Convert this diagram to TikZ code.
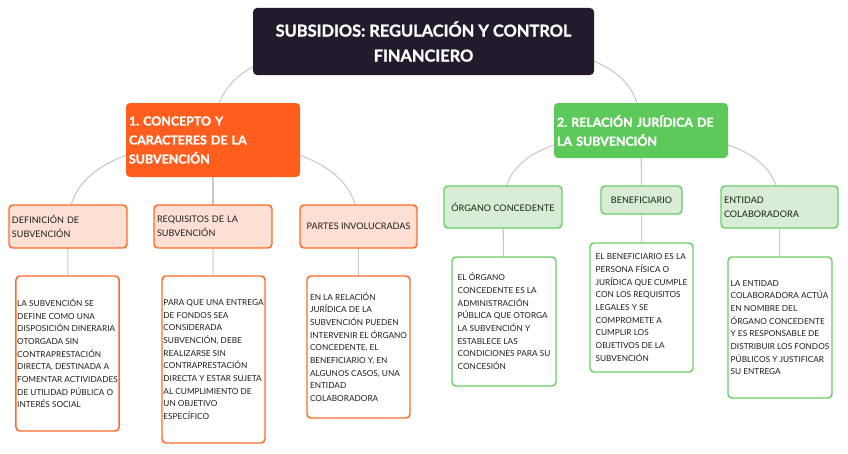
\documentclass[tikz,border=0pt]{standalone}
\usepackage{fontspec}
\setmainfont{Lato}
\newfontfamily\heavyfont{Lato}[BoldFeatures={FakeBold=1.3}]
\usetikzlibrary{backgrounds}
\definecolor{titlebg}{HTML}{231B2C}
\definecolor{orangemain}{HTML}{FF5E1F}
\definecolor{orangelight}{HTML}{FDDFD4}
\definecolor{orangeborder}{HTML}{FF6A2A}
\definecolor{greenmain}{HTML}{5EC95B}
\definecolor{greenlight}{HTML}{D7EDD5}
\definecolor{greenborder}{HTML}{6BCF66}
\definecolor{linkgray}{HTML}{C9C9C9}
\definecolor{txt}{HTML}{1E1E1E}
\begin{document}
\frenchspacing
\begin{tikzpicture}[x=0.75pt,y=-0.75pt,
  sz/.style 2 args={minimum width=#1*0.75pt, minimum height=#2*0.75pt},
  titlebox/.style={fill=titlebg, rounded corners=3pt, text=white,
    font=\heavyfont\fontsize{12.3}{18.75}\selectfont\bfseries, align=center, inner sep=0pt},
  headbox/.style={rounded corners=3pt, text=white,
    font=\heavyfont\fontsize{9.3}{14.25}\selectfont\bfseries, align=left, inner xsep=2.25pt, inner ysep=0pt},
  subbox/.style={rounded corners=3pt, line width=1.1pt, text=txt,
    font=\fontsize{6.8}{10.5}\selectfont, inner xsep=2.25pt, inner ysep=0pt},
  orsub/.style={subbox, fill=orangelight, draw=orangeborder},
  grsub/.style={subbox, fill=greenlight, draw=greenborder},
  textbox/.style={rounded corners=3pt, line width=1.1pt, fill=white, text=txt,
    font=\fontsize{6.2}{9.5}\selectfont, align=left, inner sep=1pt},
  link/.style={draw=linkgray, line width=0.8pt}
]
\useasboundingbox (0,0) rectangle (848,453);
\begin{pgfonlayer}{background}
\fill[white] (0,0) rectangle (848,453);
\end{pgfonlayer}

% main nodes
\node[titlebox, sz={341}{67}] (title) at (423.5,41.5) {SUBSIDIOS: REGULACIÓN Y CONTROL\\FINANCIERO};
\node[headbox, fill=orangemain, sz={174}{74}, text width=126pt] (concept) at (213,140)
  {1. CONCEPTO Y\\CARACTERES DE LA\\SUBVENCIÓN};
\node[headbox, fill=greenmain, sz={174}{55}, text width=126pt] (relation) at (641,130.5)
  {2. RELACIÓN JURÍDICA DE\\LA SUBVENCIÓN};

% orange sub nodes
\node[orsub, sz={118}{43}, text width=84pt, align=left] (def) at (68,226.5) {DEFINICIÓN DE\\SUBVENCIÓN};
\node[orsub, sz={118}{43}, text width=84pt, align=left] (req) at (213,226.5) {REQUISITOS DE LA\\SUBVENCIÓN};
\node[orsub, sz={117}{43}, align=center] (partes) at (358.5,226.5) {PARTES INVOLUCRADAS};

% green sub nodes
\node[grsub, sz={118}{42}, align=center] (org) at (503,207) {ÓRGANO CONCEDENTE};
\node[grsub, sz={81}{28}, align=center] (ben) at (641.5,200) {BENEFICIARIO};
\node[grsub, sz={117}{42}, text width=83.25pt, align=left] (ent) at (779.5,207) {ENTIDAD\\COLABORADORA};

% text boxes
\node[textbox, draw=orangeborder, sz={103}{155}] (t1) at (67.5,353.5)
  {LA SUBVENCIÓN SE\\DEFINE COMO UNA\\DISPOSICIÓN DINERARIA\\OTORGADA SIN\\CONTRAPRESTACIÓN\\DIRECTA, DESTINADA A\\FOMENTAR ACTIVIDADES\\DE UTILIDAD PÚBLICA O\\INTERÉS SOCIAL};
\node[textbox, draw=orangeborder, sz={103}{167}] (t2) at (213.5,359.5)
  {PARA QUE UNA ENTREGA\\DE FONDOS SEA\\CONSIDERADA\\SUBVENCIÓN, DEBE\\REALIZARSE SIN\\CONTRAPRESTACIÓN\\DIRECTA Y ESTAR SUJETA\\AL CUMPLIMIENTO DE\\UN OBJETIVO\\ESPECÍFICO};
\node[textbox, draw=orangeborder, sz={103}{142}] (t3) at (358.5,347)
  {EN LA RELACIÓN\\JURÍDICA DE LA\\SUBVENCIÓN PUEDEN\\INTERVENIR EL ÓRGANO\\CONCEDENTE, EL\\BENEFICIARIO Y, EN\\ALGUNOS CASOS, UNA\\ENTIDAD\\COLABORADORA};
\node[textbox, draw=greenborder, sz={104}{129}] (t4) at (504,321.5)
  {EL ÓRGANO\\CONCEDENTE ES LA\\ADMINISTRACIÓN\\PÚBLICA QUE OTORGA\\LA SUBVENCIÓN Y\\ESTABLECE LAS\\CONDICIONES PARA SU\\CONCESIÓN};
\node[textbox, draw=greenborder, sz={103}{129}] (t5) at (641.5,307.5)
  {EL BENEFICIARIO ES LA\\PERSONA FÍSICA O\\JURÍDICA QUE CUMPLE\\CON LOS REQUISITOS\\LEGALES Y SE\\COMPROMETE A\\CUMPLIR LOS\\OBJETIVOS DE LA\\SUBVENCIÓN};
\node[textbox, draw=greenborder, sz={104}{141}] (t6) at (780,327.5)
  {LA ENTIDAD\\COLABORADORA ACTÚA\\EN NOMBRE DEL\\ÓRGANO CONCEDENTE\\Y ES RESPONSABLE DE\\DISTRIBUIR LOS FONDOS\\PÚBLICOS Y JUSTIFICAR\\SU ENTREGA};

% connectors
\begin{pgfonlayer}{background}
\draw[link] (title.center) .. controls +(-163,0) and +(0,-70) .. (concept.center);
\draw[link] (title.center) .. controls +(167,0) and +(0,-65) .. (relation.center);
\draw[link] (concept.center) .. controls +(-83,5) and +(0,-60) .. (def.center);
\draw[link] (concept.center) -- (req.center);
\draw[link] (concept.center) .. controls +(83,5) and +(0,-60) .. (partes.center);
\draw[link] (relation.center) .. controls +(-81,5) and +(0,-55) .. (org.center);
\draw[link] (relation.center) -- (ben.center);
\draw[link] (relation.center) .. controls +(81,5) and +(0,-55) .. (ent.center);
\draw[link] (def.center) -- (t1.center);
\draw[link] (req.center) -- (t2.center);
\draw[link] (partes.center) -- (t3.center);
\draw[link] (org.center) -- (t4.center);
\draw[link] (ben.center) -- (t5.center);
\draw[link] (ent.center) -- (t6.center);
\end{pgfonlayer}
\end{tikzpicture}
\end{document}
